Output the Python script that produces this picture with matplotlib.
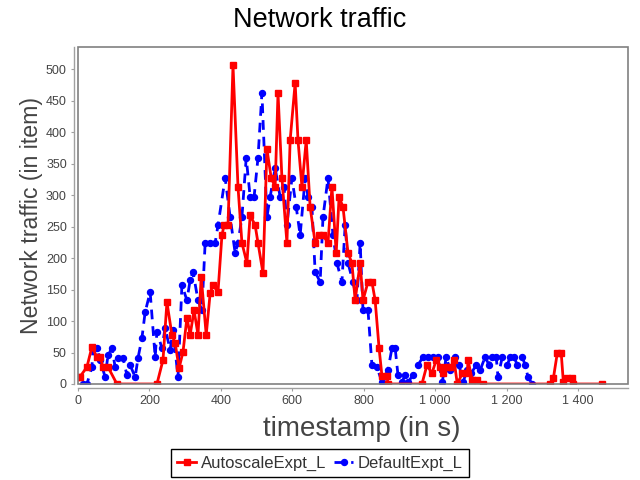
import matplotlib
matplotlib.use("Agg")
import matplotlib.pyplot as plt
from matplotlib.ticker import FuncFormatter, MultipleLocator
from matplotlib.patches import Rectangle

title = "Network traffic"
xlabel = "timestamp (in s)"
ylabel = "Network traffic (in item)"
series_names = ["AutoscaleExpt_L", "DefaultExpt_L"]

auto_t = [0, 5, 25, 39, 53, 62, 70, 84, 109, 221, 238, 249, 263, 272, 283, 294, 305, 314, 325, 336,
          345, 359, 370, 378, 392, 403, 409, 420, 434, 448, 459, 473, 482, 496, 504, 518, 529, 541,
          552, 560, 571, 585, 594, 608, 616, 627, 639, 650, 664, 675, 686, 700, 711, 723, 731, 742,
          756, 767, 776, 790, 798, 812, 823, 832, 843, 851, 865, 868, 963, 977, 991, 1003, 1014,
          1022, 1034, 1045, 1053, 1062, 1076, 1090, 1092, 1104, 1118, 1134, 1322, 1331, 1342, 1353,
          1359, 1370, 1384, 1387, 1468]
auto_v = [11, 11, 27, 59, 43, 43, 27, 27, 0, 0, 38, 130, 78, 65, 25, 51, 105, 78, 117, 78,
          170, 78, 144, 157, 146, 236, 252, 252, 506, 313, 224, 192, 268, 252, 224, 176, 373, 327,
          313, 462, 327, 224, 387, 478, 387, 313, 387, 281, 224, 236, 236, 224, 313, 208, 297, 281,
          208, 192, 133, 192, 133, 162, 162, 133, 57, 13, 13, 0, 0, 30, 17, 38, 27,
          17, 27, 27, 38, 0, 17, 17, 38, 6, 6, 0, 0, 9, 49, 49,
          3, 9, 9, 0, 0]

def_t = [14, 25, 39, 42, 53, 62, 76, 84, 95, 104, 112, 126, 137, 146, 160, 168, 179, 188, 202, 216,
         221, 235, 244, 258, 266, 280, 291, 305, 314, 322, 336, 347, 356, 370, 384, 392, 412, 426,
         440, 448, 459, 471, 482, 493, 504, 515, 529, 538, 552, 566, 577, 585, 599, 611, 622, 636,
         644, 655, 664, 678, 686, 700, 714, 725, 739, 748, 756, 770, 781, 790, 798, 812, 823, 837,
         851, 868, 879, 888, 896, 907, 916, 924, 938, 952, 966, 980, 994, 1008, 1020, 1031, 1042,
         1056, 1067, 1078, 1090, 1101, 1115, 1126, 1140, 1151, 1160, 1171, 1176, 1188, 1202, 1210,
         1221, 1230, 1244, 1252, 1260, 1272]
def_v = [0, 0, 27, 57, 57, 38, 11, 46, 57, 27, 41, 41, 14, 30, 11, 41, 73, 114, 146, 43,
         83, 57, 89, 54, 86, 11, 157, 133, 165, 178, 133, 117, 224, 224, 224, 252, 327, 265,
         208, 224, 265, 359, 297, 297, 359, 462, 265, 297, 343, 297, 313, 252, 327, 281, 236, 327,
         297, 281, 178, 162, 265, 327, 236, 192, 162, 252, 192, 162, 133, 224, 117, 117, 30, 27,
         3, 22, 57, 57, 14, 3, 14, 3, 14, 30, 43, 43, 43, 43, 3, 43, 22,
         43, 30, 3, 22, 17, 30, 22, 43, 30, 43, 43, 11, 43, 30, 43,
         43, 30, 43, 30, 11, 0]

fig = plt.figure(figsize=(6.4, 4.8), dpi=100)
ax = fig.add_axes([78/640, 1 - 384/480, 550/640, 337/480])

ax.plot(auto_t, auto_v, color="#FF0000", lw=2.0, marker="s", ms=4.3, mec="#FF0000",
        mfc="#FF0000", label=series_names[0], zorder=3)
ax.plot(def_t, def_v, color="#0000FF", lw=2.0, ls=(0, (3.5, 2.5)), marker="o", ms=4.3,
        mec="#0000FF", mfc="#0000FF", label=series_names[1], zorder=2)

ax.set_xlim(0, 1540)
ax.set_ylim(0, 535)
ax.xaxis.set_major_locator(MultipleLocator(200))
ax.yaxis.set_major_locator(MultipleLocator(50))

def fmt(x, pos):
    s = f"{int(round(x)):,}".replace(",", " ")
    return s
ax.xaxis.set_major_formatter(FuncFormatter(fmt))

grey = "#808080"
for side in ["top", "right"]:
    ax.spines[side].set_visible(False)
for side in ["bottom", "left"]:
    ax.spines[side].set_position(("outward", 3))
    ax.spines[side].set_color("#A0A0A0")
    ax.spines[side].set_linewidth(1.0)
ax.add_patch(Rectangle((0, 0), 1, 1, transform=ax.transAxes, fill=False,
                       edgecolor=grey, lw=1.2, clip_on=False, zorder=5))

ax.tick_params(axis="both", direction="out", length=2, width=0.8, color="#A0A0A0",
               labelsize=9, labelcolor="#444444", pad=3)
for lab in ax.get_xticklabels() + ax.get_yticklabels():
    lab.set_family("Liberation Sans")

ax.set_xlabel(xlabel, fontsize=20, family="Liberation Sans", color="#444444", labelpad=6)
ax.xaxis.set_label_coords(0.516, -0.095)
ax.set_ylabel(ylabel, fontsize=16.7, family="Liberation Sans", color="#444444", labelpad=2)
fig.suptitle(title, fontsize=19.5, family="Liberation Sans", color="black", y=0.985)

leg = fig.legend(loc="center", bbox_to_anchor=(0.5, 1 - 463/480), ncol=2,
                 fancybox=False, frameon=True, edgecolor="black", framealpha=1,
                 prop={"family": "Liberation Sans", "size": 12},
                 handlelength=1.1, handletextpad=0.3, columnspacing=0.5,
                 borderpad=0.4, borderaxespad=0)
leg.get_frame().set_linewidth(1.0)
for t in leg.get_texts():
    t.set_color("#333333")

fig.savefig("out.png", dpi=100)
